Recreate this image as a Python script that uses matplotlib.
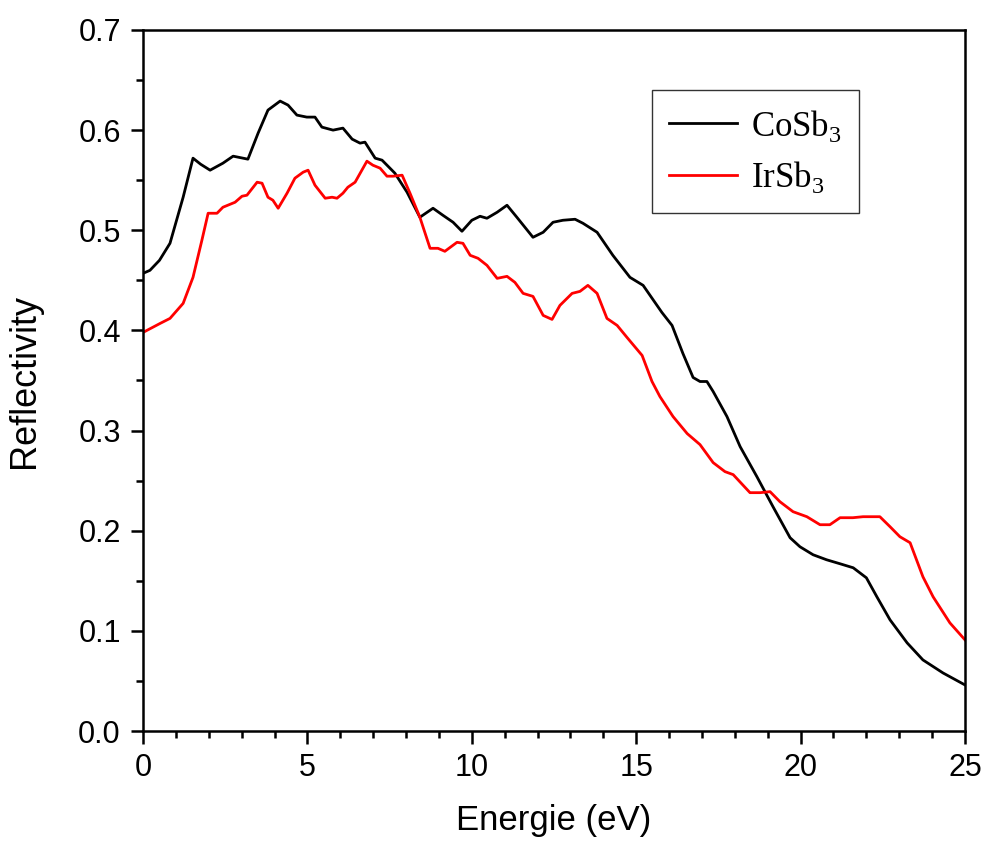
import numpy as np
import matplotlib
matplotlib.use("Agg")
import matplotlib.pyplot as plt
from matplotlib.ticker import MultipleLocator

# CoSb3 reflectivity
energy_co = [0.0, 0.21, 0.5, 0.82, 1.22, 1.52, 1.75, 2.04, 2.43, 2.74, 3.19, 3.50, 3.80,
             4.17, 4.41, 4.68, 4.98, 5.23, 5.44, 5.78, 6.08, 6.36, 6.60, 6.75, 7.06,
             7.27, 7.66, 8.03, 8.42, 8.82, 9.12, 9.43, 9.70, 10.0, 10.25, 10.46, 10.77,
             11.07, 11.37, 11.86, 12.17, 12.47, 12.77, 13.14, 13.38, 13.81, 14.29,
             14.81, 15.21, 15.78, 16.09, 16.42, 16.73, 16.94, 17.15, 17.34, 17.76,
             18.16, 18.67, 19.16, 19.68, 19.98, 20.38, 20.79, 21.2, 21.6, 22.0, 22.32,
             22.72, 23.24, 23.72, 24.33, 25.0]
refl_co = [0.457, 0.460, 0.470, 0.487, 0.533, 0.572, 0.566, 0.560, 0.567, 0.574, 0.571,
           0.597, 0.620, 0.629, 0.625, 0.615, 0.613, 0.613, 0.603, 0.600, 0.602, 0.591,
           0.587, 0.588, 0.572, 0.570, 0.557, 0.538, 0.513, 0.522, 0.515, 0.508, 0.499,
           0.510, 0.514, 0.512, 0.518, 0.525, 0.513, 0.493, 0.498, 0.508, 0.510, 0.511,
           0.507, 0.498, 0.475, 0.453, 0.445, 0.418, 0.405, 0.377, 0.353, 0.349, 0.349,
           0.339, 0.314, 0.284, 0.254, 0.224, 0.193, 0.184, 0.176, 0.171, 0.167, 0.163,
           0.153, 0.134, 0.111, 0.088, 0.071, 0.058, 0.046]

# IrSb3 reflectivity
energy_ir = [0.0, 0.52, 0.82, 1.22, 1.52, 1.79, 1.98, 2.25, 2.43, 2.80, 3.01, 3.16, 3.47,
             3.62, 3.80, 3.95, 4.11, 4.38, 4.62, 4.87, 5.02, 5.23, 5.54, 5.75, 5.90,
             6.08, 6.23, 6.45, 6.81, 6.99, 7.21, 7.42, 7.60, 7.88, 8.12, 8.42, 8.73,
             8.97, 9.18, 9.55, 9.73, 9.95, 10.19, 10.46, 10.77, 11.07, 11.31, 11.56,
             11.86, 12.17, 12.44, 12.68, 13.05, 13.29, 13.53, 13.81, 14.11, 14.42,
             14.72, 15.18, 15.48, 15.72, 16.12, 16.55, 16.94, 17.34, 17.70, 17.95,
             18.46, 18.77, 19.07, 19.37, 19.77, 20.19, 20.59, 20.89, 21.20, 21.59,
             21.90, 22.41, 22.72, 23.02, 23.33, 23.72, 24.03, 24.54, 25.0]
refl_ir = [0.398, 0.407, 0.412, 0.427, 0.453, 0.490, 0.517, 0.517, 0.523, 0.528, 0.534,
           0.535, 0.548, 0.547, 0.533, 0.530, 0.522, 0.537, 0.552, 0.558, 0.560, 0.545,
           0.532, 0.533, 0.532, 0.537, 0.543, 0.548, 0.569, 0.565, 0.562, 0.554, 0.554,
           0.555, 0.537, 0.513, 0.482, 0.482, 0.479, 0.488, 0.487, 0.475, 0.472, 0.465,
           0.452, 0.454, 0.448, 0.437, 0.434, 0.415, 0.411, 0.425, 0.437, 0.439, 0.445,
           0.437, 0.412, 0.405, 0.393, 0.375, 0.349, 0.334, 0.314, 0.297, 0.286, 0.268,
           0.259, 0.256, 0.238, 0.238, 0.239, 0.229, 0.219, 0.214, 0.206, 0.206, 0.213,
           0.213, 0.214, 0.214, 0.204, 0.194, 0.188, 0.154, 0.134, 0.108, 0.091]

plt.rcParams['font.family'] = ['Liberation Sans', 'DejaVu Sans']

fig = plt.figure(figsize=(9.83, 8.42), dpi=100)
ax = fig.add_axes([0.1455, 0.1318, 0.8362, 0.8326])

ax.plot(energy_co, refl_co, color='black', lw=2.0, label=r'CoSb$_\mathregular{3}$')
ax.plot(energy_ir, refl_ir, color='red', lw=2.0, label=r'IrSb$_\mathregular{3}$')

ax.set_xlim(0, 25)
ax.set_ylim(0, 0.7)
ax.xaxis.set_major_locator(MultipleLocator(5))
ax.xaxis.set_minor_locator(MultipleLocator(1))
ax.yaxis.set_major_locator(MultipleLocator(0.1))
ax.yaxis.set_minor_locator(MultipleLocator(0.05))
ax.yaxis.set_major_formatter(plt.FormatStrFormatter('%.1f'))

ax.tick_params(which='major', direction='out', length=9, width=1.8, labelsize=22, pad=7)
ax.tick_params(which='minor', direction='out', length=5, width=1.8)
for sp in ax.spines.values():
    sp.set_linewidth(1.8)

ax.set_xlabel('Energie (eV)', fontsize=25, labelpad=15)
ax.set_ylabel('Reflectivity', fontsize=26, labelpad=26)

leg = ax.legend(loc='upper right', bbox_to_anchor=(0.871, 0.914), borderaxespad=0,
                fancybox=False, edgecolor='#333333', framealpha=1,
                prop={'family': 'Liberation Serif', 'size': 25},
                handlelength=1.95, handletextpad=0.4, borderpad=0.5, labelspacing=0.45)
leg.get_frame().set_linewidth(1.0)

fig.savefig('out.png', dpi=100)
